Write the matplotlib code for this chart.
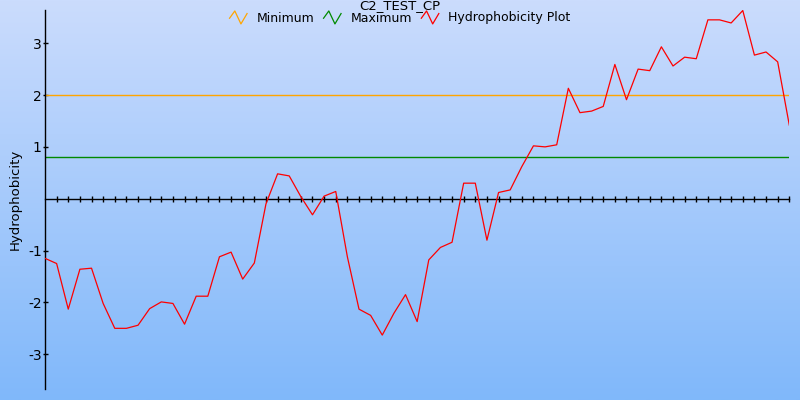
import numpy as np
import matplotlib
matplotlib.use('Agg')
from matplotlib import pyplot as plt
from matplotlib.lines import Line2D
from matplotlib.legend_handler import HandlerBase

# hydrophobicity values, one per window position
hydro = [-1.15, -1.25, -2.13, -1.36, -1.34, -2.02, -2.50, -2.50, -2.44, -2.12,
         -1.99, -2.02, -2.42, -1.88, -1.88, -1.12, -1.03, -1.55, -1.24, -0.10,
         0.48, 0.44, 0.04, -0.31, 0.05, 0.14, -1.12, -2.13, -2.25, -2.63,
         -2.21, -1.85, -2.37, -1.18, -0.94, -0.84, 0.30, 0.30, -0.80, 0.12,
         0.17, 0.62, 1.02, 1.00, 1.04, 2.13, 1.66, 1.69, 1.78, 2.59,
         1.91, 2.50, 2.47, 2.93, 2.56, 2.73, 2.70, 3.45, 3.45, 3.39,
         3.63, 2.77, 2.83, 2.64, 1.42]
positions = list(range(len(hydro)))
minimum_value = 2.0
maximum_value = 0.80
ytick_values = [-3, -2, -1, 1, 2, 3]
ytick_labels = ['-3', '-2', '-1', '1', '2', '3']
title = 'C2_TEST_CP'
legend_labels = ['Minimum', 'Maximum', 'Hydrophobicity Plot']


class ZigzagHandler(HandlerBase):
    # little zigzag icon like the original legend
    def create_artists(self, legend, orig_handle, xdescent, ydescent,
                       width, height, fontsize, trans):
        xs = np.array([0.0, 0.3, 0.65, 1.0]) * width - xdescent
        ys = np.array([0.4, 1.1, -0.15, 0.85]) * height - ydescent
        ln = Line2D(xs, ys, color=orig_handle.get_color(), lw=0.9)
        ln.set_transform(trans)
        return [ln]


plt.rcParams['font.family'] = ['DejaVu Sans']
fig = plt.figure(figsize=(8, 4), dpi=100)

# gradient background over the whole figure
bg = fig.add_axes([0, 0, 1, 1], zorder=0)
top = np.array([203, 220, 253]) / 255
bot = np.array([128, 184, 250]) / 255
t = np.linspace(0, 1, 256)[:, None]
grad = (top * (1 - t) + bot * t)[:, None, :]
bg.imshow(grad, aspect='auto', extent=[0, 1, 0, 1])
bg.set_axis_off()

ax = fig.add_axes([45 / 800, 11 / 400, 744.3 / 800, 379 / 400], zorder=1)
ax.patch.set_alpha(0)

n = len(hydro)
ax.plot(positions, [minimum_value] * n, color='#FFA500', lw=1.0, label=legend_labels[0])
ax.plot(positions, [maximum_value] * n, color='#008A00', lw=1.0, label=legend_labels[1])
ax.plot(positions, hydro, color='#FF0000', lw=0.9, label=legend_labels[2], zorder=3)

ax.set_xlim(0, n - 1)
ax.set_ylim(-3.67, 3.64)

for s in ['top', 'right']:
    ax.spines[s].set_visible(False)
ax.spines['bottom'].set_position(('data', 0))
ax.spines['bottom'].set_linewidth(1.0)
ax.spines['left'].set_linewidth(1.0)

ax.set_xticks(positions[1:])
ax.set_xticklabels([])
ax.tick_params(axis='x', direction='inout', length=4.2, width=1.0)
ax.set_yticks(ytick_values)
ax.set_yticklabels(ytick_labels)
ax.tick_params(axis='y', direction='inout', length=3.6, width=1.0, pad=0.5,
               labelsize=10, colors='black')

ax.set_ylabel('Hydrophobicity', fontsize=9.5)
ax.yaxis.set_label_coords(-0.031, 0.5)

fig.text(0.5, 1 - 9.3 / 400, title, ha='center', va='baseline', fontsize=9.5)

handles, labels = ax.get_legend_handles_labels()
fig.legend(handles, labels, loc='center', bbox_to_anchor=(0.5, 1 - 18 / 400),
           ncol=3, frameon=False, fontsize=9, borderpad=0,
           handlelength=1.4, handleheight=0.9, handletextpad=0.75, columnspacing=0.75,
           handler_map={Line2D: ZigzagHandler()})

plt.savefig('out.png', dpi=100)
